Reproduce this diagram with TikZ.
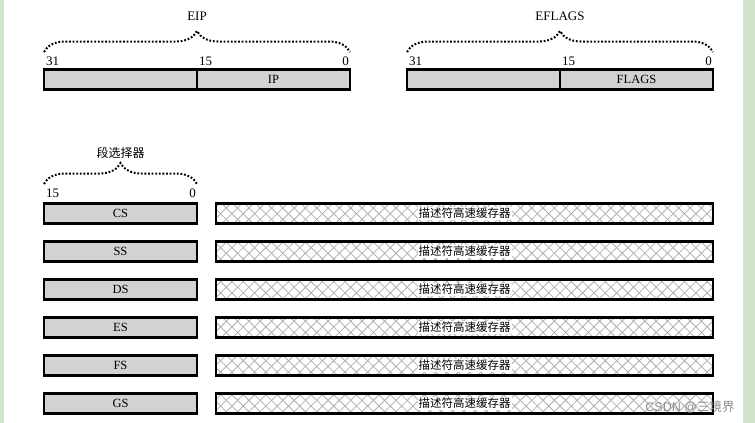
\documentclass[tikz,border=0pt]{standalone}
\usepackage{fontspec}
\setmainfont{Liberation Serif}
\newfontfamily\cjk{Noto Sans CJK SC}
\newfontfamily\wmfont{Liberation Sans}
\usetikzlibrary{patterns.meta,decorations.pathreplacing}

\definecolor{sidegreen}{HTML}{D3E4CD}
\definecolor{stipple}{HTML}{D2D2D2}
\definecolor{hatch}{HTML}{B0B0B0}

\tikzset{
  regbox/.style={draw=black, line width=2.2pt, fill=stipple,
    minimum height=20pt, inner sep=0pt, outer sep=0pt,
    font=\fontsize{12.5}{14}\selectfont},
  cachebox/.style={draw=black, line width=2.2pt, minimum height=20pt,
    minimum width=497pt, inner sep=0pt, outer sep=0pt,
    preaction={pattern={Lines[angle=45,distance=8pt,line width=0.8pt]}, pattern color=hatch},
    pattern={Lines[angle=-45,distance=8pt,line width=0.8pt]}, pattern color=hatch},
  cachetext/.style={fill=white, inner sep=1pt, font=\cjk\fontsize{11.5}{13}\selectfont},
  bitlabel/.style={inner sep=0pt, font=\fontsize{13}{14}\selectfont},
  title/.style={inner sep=0pt, font=\fontsize{13}{14}\selectfont},
  dottedbrace/.style={decorate, decoration={brace, amplitude=21pt},
    line width=2pt, dash pattern=on 1.8pt off 1.8pt},
  divider/.style={line width=1.4pt},
}

\begin{document}
\begin{tikzpicture}[x=1pt, y=-1pt]
  % page and side strips
  \fill[white] (0,0) rectangle (755,423);
  \useasboundingbox (0,0) rectangle (755,423);
  \fill[sidegreen] (0,0) rectangle (4,423);
  \fill[sidegreen] (743,0) rectangle (755,423);

  % EIP register
  \node[title] (eiptitle) at (197,16) {EIP};
  \draw[dottedbrace] (44,52) -- (350,52);
  \node[bitlabel, anchor=west] (eip31) at (46,61) {31};
  \node[bitlabel, anchor=west] (eip15) at (199,61) {15};
  \node[bitlabel, anchor=east] (eip0) at (349,61) {0};
  \node[regbox, minimum width=306pt] (eip) at (197,79.5) {};
  \draw[divider] (eip.north) -- (eip.south);
  \node[regbox, draw=none, fill=none] (iptext) at (273.5,79.5) {IP};

  % EFLAGS register
  \node[title] (eflagstitle) at (560,16) {EFLAGS};
  \draw[dottedbrace] (407,52) -- (713,52);
  \node[bitlabel, anchor=west] (efl31) at (409,61) {31};
  \node[bitlabel, anchor=west] (efl15) at (562,61) {15};
  \node[bitlabel, anchor=east] (efl0) at (712,61) {0};
  \node[regbox, minimum width=306pt] (eflags) at (560,79.5) {};
  \draw[divider] (eflags.north) -- (eflags.south);
  \node[regbox, draw=none, fill=none] (flagstext) at (636.5,79.5) {FLAGS};

  % segment selector heading
  \node[title, font=\cjk\fontsize{12}{13}\selectfont] (seltitle) at (120.5,153) {段选择器};
  \draw[dottedbrace] (44,184) -- (197,184);
  \node[bitlabel, anchor=west] (sel15) at (46,193) {15};
  \node[bitlabel, anchor=east] (sel0) at (196,193) {0};

  % segment registers with their descriptor caches
  \foreach \reg/\yy in {CS/213.5, SS/251.5, DS/289.5, ES/327.5, FS/365.5, GS/403.5} {
    \node[regbox, minimum width=153pt] (\reg) at (120.5,\yy) {\reg};
    \node[cachebox] (\reg cache) at (464.5,\yy) {};
    \node[cachetext] (\reg desc) at (\reg cache) {描述符高速缓存器};
  }

  % watermark
  \node[inner sep=0pt, text=black!45, font=\wmfont\fontsize{12.5}{14}\selectfont] (wm) at (690,407)
    {CSDN @{\cjk 三境界}};
\end{tikzpicture}
\end{document}
